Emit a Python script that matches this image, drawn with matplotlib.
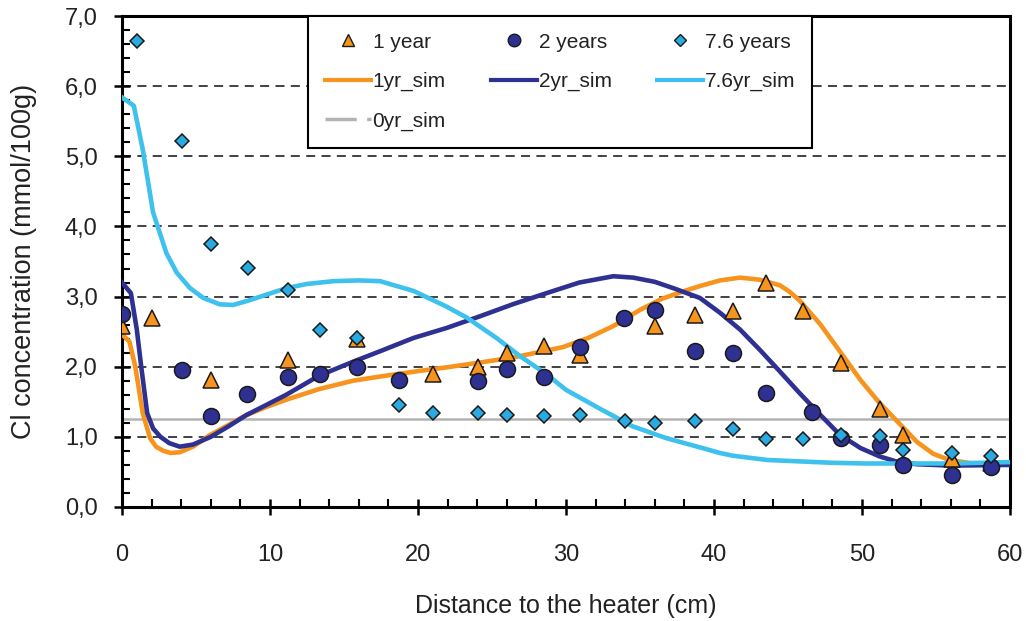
import numpy as np
import matplotlib
matplotlib.use("Agg")
import matplotlib.pyplot as plt
from matplotlib.ticker import MultipleLocator, FuncFormatter
from matplotlib.lines import Line2D

plt.rcParams['font.family'] = ['Liberation Sans', 'DejaVu Sans']

# measured Cl profiles
x_1yr = [0, 2.05, 6.0, 11.24, 15.86, 21.03, 24.03, 26.0, 28.5, 30.95, 36.0, 38.7,
         41.3, 43.5, 46.0, 48.56, 51.2, 52.8, 56.1, 58.7]
y_1yr = [2.58, 2.70, 1.81, 2.10, 2.39, 1.90, 2.00, 2.20, 2.29, 2.17, 2.58, 2.74,
         2.79, 3.20, 2.79, 2.06, 1.40, 1.02, 0.68, 0.62]

x_2yr = [0, 4.03, 6.0, 8.47, 11.24, 13.38, 15.86, 18.72, 24.03, 26.0, 28.5, 30.95,
         33.95, 36.0, 38.7, 41.3, 43.5, 46.6, 48.56, 51.2, 52.8, 56.1, 58.7]
y_2yr = [2.75, 1.96, 1.30, 1.61, 1.85, 1.90, 1.99, 1.81, 1.80, 1.97, 1.85, 2.28,
         2.69, 2.81, 2.23, 2.19, 1.62, 1.36, 0.98, 0.89, 0.60, 0.46, 0.57]

x_76yr = [1.03, 4.03, 6.0, 8.49, 11.24, 13.38, 15.86, 18.72, 21.03, 24.03, 26.0, 28.5,
          30.95, 33.99, 36.0, 38.7, 41.3, 43.5, 46.0, 48.56, 51.2, 52.8, 56.1, 58.7]
y_76yr = [6.65, 5.22, 3.75, 3.41, 3.10, 2.53, 2.41, 1.45, 1.34, 1.34, 1.31, 1.30,
          1.31, 1.23, 1.20, 1.22, 1.11, 0.97, 0.97, 1.02, 1.01, 0.81, 0.77, 0.73]

# simulated profiles
xs_1yr = [0, 0.5, 0.9, 1.4, 1.9, 2.3, 2.8, 3.3, 3.9, 4.8, 5.9, 7.2, 8.4, 9.8, 11.1,
          13.3, 15.6, 17.43, 20.1, 21.9, 24.2, 26.4, 28.0, 29.8, 31.5, 33.2, 35.0,
          36.5, 38.0, 39.05, 40.4, 41.76, 43.1, 44.46, 45.1, 45.8, 47.2, 48.5, 49.9,
          51.2, 52.3, 53.7, 54.8, 55.9, 57.5, 60]
ys_1yr = [2.46, 2.36, 2.0, 1.34, 0.98, 0.86, 0.80, 0.77, 0.78, 0.86, 1.02, 1.17, 1.31,
          1.43, 1.53, 1.68, 1.80, 1.86, 1.94, 1.99, 2.06, 2.13, 2.20, 2.28, 2.41, 2.58,
          2.81, 2.97, 3.08, 3.15, 3.23, 3.27, 3.24, 3.16, 3.07, 2.94, 2.60, 2.22, 1.81,
          1.48, 1.24, 0.93, 0.76, 0.67, 0.62, 0.60]

xs_2yr = [0, 0.6, 1.0, 1.3, 1.7, 2.1, 2.6, 3.2, 3.9, 4.8, 6.0, 7.2, 8.4, 9.8, 11.1,
          13.3, 15.6, 17.43, 19.7, 21.9, 24.2, 26.4, 28.7, 30.9, 33.2, 34.55, 36.0,
          37.25, 39.05, 40.4, 41.76, 43.1, 44.46, 45.8, 47.2, 48.5, 49.9, 51.2, 52.3,
          53.7, 56.0, 60]
ys_2yr = [3.2, 3.05, 2.53, 2.0, 1.34, 1.12, 1.0, 0.91, 0.86, 0.89, 1.0, 1.15, 1.31,
          1.46, 1.60, 1.87, 2.07, 2.22, 2.41, 2.55, 2.72, 2.89, 3.05, 3.20, 3.29, 3.27,
          3.21, 3.12, 2.98, 2.77, 2.53, 2.24, 1.93, 1.62, 1.31, 1.03, 0.84, 0.72, 0.65,
          0.61, 0.59, 0.60]

xs_76yr = [0, 0.8, 1.4, 2.1, 3.0, 3.7, 4.6, 5.5, 6.6, 7.5, 8.5, 9.8, 11.1, 12.5, 14.3,
           16.0, 17.43, 19.7, 21.9, 23.3, 25.3, 26.9, 28.7, 30.0, 32.3, 34.5, 36.8,
           39.05, 40.4, 41.3, 43.6, 45.8, 48.0, 50.3, 52.0, 56.0, 60.0]
ys_76yr = [5.84, 5.72, 5.10, 4.20, 3.62, 3.34, 3.12, 2.98, 2.89, 2.88, 2.94, 3.03,
           3.12, 3.18, 3.22, 3.23, 3.22, 3.08, 2.86, 2.70, 2.41, 2.15, 1.89, 1.67,
           1.40, 1.15, 0.98, 0.85, 0.77, 0.73, 0.67, 0.65, 0.63, 0.62, 0.62, 0.62, 0.64]

xs_0yr = [0, 60]
ys_0yr = [1.25, 1.25]

c_orange = '#F7941D'
c_navy = '#2E3192'
c_sky = '#3EC1EC'
c_gray = '#B3B3B3'

fig = plt.figure(figsize=(10.26, 6.21), dpi=100)
ax = fig.add_axes([0.1189, 0.1836, 0.8655, 0.7906])

for yy in range(1, 7):
    ax.axhline(yy, color='#333333', lw=1.3, ls=(0, (5, 3.5)), zorder=1)

ax.plot(xs_0yr, ys_0yr, color=c_gray, lw=1.8, zorder=2)
ax.plot(xs_1yr, ys_1yr, color=c_orange, lw=3.3, zorder=3)
ax.plot(xs_2yr, ys_2yr, color=c_navy, lw=3.3, zorder=3)
ax.plot(xs_76yr, ys_76yr, color=c_sky, lw=3.3, zorder=3)

ax.plot(x_1yr, y_1yr, ls='none', marker='^', ms=11.5, mfc=c_orange, mec='#1a1a1a', mew=1.1, zorder=4)
ax.plot(x_2yr, y_2yr, ls='none', marker='o', ms=11.5, mfc=c_navy, mec='#1a1a1a', mew=1.1, zorder=5)
ax.plot(x_76yr, y_76yr, ls='none', marker='D', ms=7.5, mfc='#29ABE2', mec='#1a1a1a', mew=1.1, zorder=6)

ax.set_xlim(0, 60)
ax.set_ylim(0, 7)
ax.xaxis.set_major_locator(MultipleLocator(10))
ax.xaxis.set_minor_locator(MultipleLocator(2))
ax.yaxis.set_major_locator(MultipleLocator(1))
ax.yaxis.set_minor_locator(MultipleLocator(0.2))
ax.yaxis.set_major_formatter(FuncFormatter(lambda v, p: f"{v:.1f}".replace('.', ',')))
ax.xaxis.set_major_formatter(FuncFormatter(lambda v, p: f"{v:.0f}"))

ax.tick_params(axis='x', which='major', direction='inout', length=11, width=1.8,
               labelsize=17, pad=21, labelcolor='#222222')
ax.tick_params(axis='x', which='minor', direction='in', length=6, width=1.5)
ax.tick_params(axis='y', which='major', direction='inout', length=11, width=1.8,
               labelsize=17, pad=12, labelcolor='#222222')
ax.tick_params(axis='y', which='minor', direction='in', length=6, width=1.5)

for s in ax.spines.values():
    s.set_linewidth(2.2)
    s.set_color('black')

ax.set_xlabel('Distance to the heater (cm)', fontsize=18, color='#222222', labelpad=20)
ax.set_ylabel('Cl concentration (mmol/100g)', fontsize=19.5, color='#222222', labelpad=20)

handles = [
    Line2D([], [], ls='none', marker='^', ms=8.5, mfc=c_orange, mec='#1a1a1a', mew=1),
    Line2D([], [], color=c_orange, lw=3),
    Line2D([], [], color=c_gray, lw=2.5, dashes=(9, 3, 3, 3)),
    Line2D([], [], ls='none', marker='o', ms=9, mfc=c_navy, mec='#1a1a1a', mew=1),
    Line2D([], [], color=c_navy, lw=3),
    Line2D([], [], ls='none', marker='D', ms=6.5, mfc='#29ABE2', mec='#1a1a1a', mew=1),
    Line2D([], [], color=c_sky, lw=3),
]
labels = ['1 year', '1yr_sim', '0yr_sim', '2 years', '2yr_sim', '7.6 years', '7.6yr_sim']
leg = ax.legend(handles, labels, ncol=3, loc='upper left', mode='expand',
                bbox_to_anchor=(0.2095, 0.0, 0.5675, 1.0), fontsize=15,
                handlelength=2.2, handletextpad=0.1, labelspacing=0.98,
                borderpad=0.8, borderaxespad=0, fancybox=False, framealpha=1,
                edgecolor='black', facecolor='white')
leg.get_frame().set_linewidth(1.5)
leg.set_zorder(10)
for t in leg.get_texts():
    t.set_color('#222222')

fig.savefig('out.png', dpi=100)
